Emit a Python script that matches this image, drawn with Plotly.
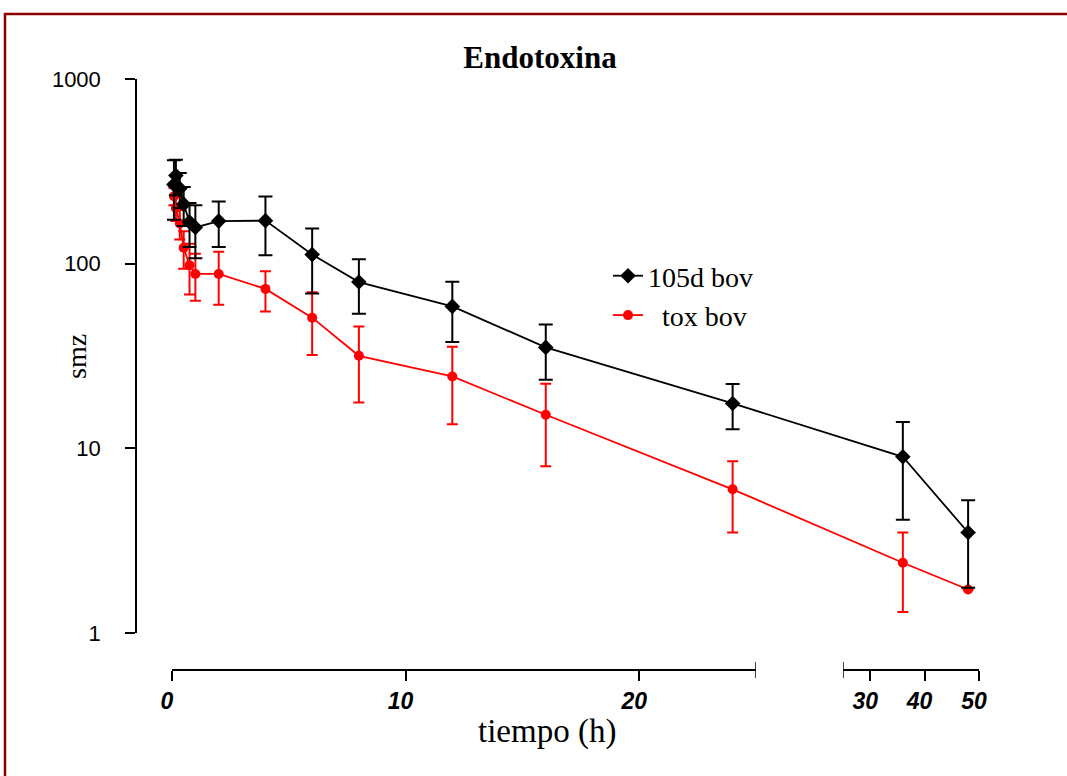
import plotly.graph_objects as go

# ---------------- data ----------------
time_h = [0.083, 0.167, 0.333, 0.5, 0.75, 1, 2, 4, 6, 8, 12, 16, 24, 36, 48]
bov105_mean = [268, 300, 255, 210, 168, 157, 170, 171, 112, 79.5, 58.7, 35.2, 17.5, 9.0, 3.5]
bov105_sd = [95, 65, 55, 50, 45, 50, 47, 60, 43, 26, 21, 11.7, 4.8, 4.9, 1.74]
tox_mean = [232, 200, 165, 122, 98, 88, 88, 73, 51, 31.7, 24.5, 15.2, 6.0, 2.4, 1.72]
tox_sd = [25, 30, 30, 28, 30, 25, 28, 18, 19, 14, 11, 7.2, 2.5, 1.1, None]

series_names = ["105d bov", "\u00a0\u00a0tox bov"]
x_ticks_left = [0, 10, 20]
x_ticks_right = [30, 40, 50]
y_ticks = [1, 10, 100, 1000]

# ---------------- geometry (pixels) ----------------
W, H = 1067, 776
X0, X25, R25, R50 = 172, 756, 843, 979   # broken x axis segments
Y_TOP, Y_BOT = 79, 633                   # y=1000 and y=1
Y_AXIS_X = 136
X_AXIS_Y = 670


def px(x):
    return x / W


def py(y):
    return 1 - y / H


unit = 25 / (X25 - X0)            # axis units per pixel on left segment
k = (R50 - R25) / (X25 - X0)      # compression of right segment
gap = (R25 - X25) * unit


def brk(t):
    return t if t <= 25 else 25 + gap + (t - 25) * k


u = [brk(t) for t in time_h]
DX0, DX1 = 140, 1000
x_range = [(DX0 - X0) * unit, brk(50) + (DX1 - R50) * unit]

fig = go.Figure()

fig.add_trace(go.Scatter(
    x=u, y=tox_mean, name=series_names[1], mode="lines+markers",
    line=dict(color="#FF0000", width=1.8),
    marker=dict(symbol="circle", size=10, color="#FF0000"),
    error_y=dict(type="data", array=tox_sd, visible=True, color="#FF0000",
                 thickness=2, width=5.5),
    cliponaxis=False, xaxis="x", yaxis="y"))

fig.add_trace(go.Scatter(
    x=u, y=bov105_mean, name=series_names[0], mode="lines+markers",
    line=dict(color="#000000", width=1.8),
    marker=dict(symbol="diamond", size=12, color="#000000"),
    error_y=dict(type="data", array=bov105_sd, visible=True, color="#000000",
                 thickness=2, width=7),
    cliponaxis=False, xaxis="x", yaxis="y"))

# dummy traces to create decorative broken x axes
for ax in ["x2", "x3"]:
    fig.add_trace(go.Scatter(x=[], y=[], xaxis=ax, yaxis="y",
                             showlegend=False, hoverinfo="skip"))

tick_font_x = dict(family="Liberation Sans, Arial", size=23, color="black",
                   weight="bold", style="italic")

fig.update_layout(
    width=W, height=H,
    margin=dict(l=0, r=0, t=0, b=0, pad=0, autoexpand=False),
    paper_bgcolor="white", plot_bgcolor="rgba(0,0,0,0)",
    showlegend=True,
    xaxis=dict(domain=[px(DX0), px(DX1)], range=x_range, visible=False,
               fixedrange=True),
    xaxis2=dict(domain=[px(X0), px(X25)], range=[0, 25], anchor="free",
                position=py(X_AXIS_Y), showline=True, linecolor="black",
                linewidth=2, ticks="outside", ticklen=10, tickwidth=1.5,
                tickcolor="black", tickvals=x_ticks_left,
                ticktext=[str(v) for v in x_ticks_left], tickfont=tick_font_x,
                ticklabelshift=-5,
                showgrid=False, zeroline=False, fixedrange=True),
    xaxis3=dict(domain=[px(R25), px(R50)], range=[25, 50], anchor="free",
                position=py(X_AXIS_Y), showline=True, linecolor="black",
                linewidth=2, ticks="outside", ticklen=10, tickwidth=1.5,
                tickcolor="black", tickvals=x_ticks_right,
                ticktext=[str(v) for v in x_ticks_right], tickfont=tick_font_x,
                ticklabelshift=-5,
                showgrid=False, zeroline=False, fixedrange=True),
    yaxis=dict(type="log", range=[0, 3], domain=[py(Y_BOT), py(Y_TOP)],
               anchor="free", position=px(Y_AXIS_X), showline=True,
               linecolor="black", linewidth=1.5, ticks="outside", ticklen=10,
               tickwidth=1.5, tickcolor="black", tickvals=y_ticks,
               ticktext=[str(v) for v in y_ticks],
               tickfont=dict(family="Liberation Sans, Arial", size=22,
                             color="black"),
               ticklabelstandoff=20,
               showgrid=False, zeroline=False, fixedrange=True),
    title=dict(text="<b>Endotoxina</b>", x=px(540), y=py(57),
               xanchor="center", yanchor="middle", xref="paper", yref="paper",
               font=dict(family="Liberation Serif, Times New Roman", size=31,
                         color="black")),
    legend=dict(x=px(608), y=py(251), xanchor="left", yanchor="top",
                traceorder="reversed", bgcolor="rgba(0,0,0,0)",
                font=dict(family="Liberation Serif, Times New Roman", size=28,
                          color="black")),
    annotations=[
        dict(text="smz", x=px(77), y=py(357), xref="paper", yref="paper",
             textangle=-90, showarrow=False, xanchor="center",
             yanchor="middle",
             font=dict(family="Liberation Serif, Times New Roman", size=28,
                       color="black")),
        dict(text="tiempo (h)", x=px(547), y=py(731), xref="paper",
             yref="paper", showarrow=False, xanchor="center",
             yanchor="middle",
             font=dict(family="Liberation Serif, Times New Roman", size=33,
                       color="black")),
    ],
    shapes=[
        # broken-axis end caps
        dict(type="line", xref="x2", x0=25, x1=25, yref="paper",
             ysizemode="pixel", yanchor=py(X_AXIS_Y), y0=-8, y1=8,
             line=dict(color="black", width=1.5)),
        dict(type="line", xref="x3", x0=25, x1=25, yref="paper",
             ysizemode="pixel", yanchor=py(X_AXIS_Y), y0=-8, y1=8,
             line=dict(color="black", width=1.5)),
        # frame
        dict(type="rect", xref="paper", yref="paper", x0=px(5), x1=1.02,
             y0=-0.05, y1=py(14), line=dict(color="#8B0000", width=2.5)),
    ],
)

fig.write_html("out.html")
